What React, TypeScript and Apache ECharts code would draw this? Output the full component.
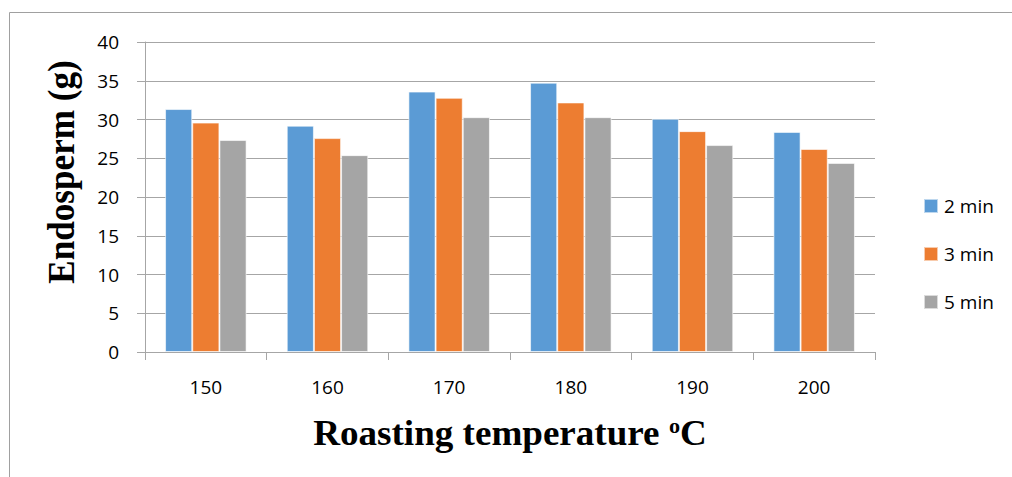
import React, { useEffect, useRef } from "react";
import * as echarts from "echarts";

const categories = ["150", "160", "170", "180", "190", "200"];
const seriesNames = ["2 min", "3 min", "5 min"];
const min2 = [31.35, 29.2, 33.6, 34.75, 30.1, 28.4];
const min3 = [29.6, 27.6, 32.8, 32.2, 28.5, 26.2];
const min5 = [27.35, 25.4, 30.3, 30.3, 26.7, 24.4];
const colors = ["#5B9BD5", "#ED7D31", "#A5A5A5"];
const yTicks = { min: 0, max: 40, interval: 5 };

const tickFont = "Open Sans";

export default function App() {
  const ref = useRef<HTMLDivElement>(null);

  useEffect(() => {
    document.body.style.margin = "0";
    const chart = echarts.init(ref.current!, null, { renderer: "svg" });
    const values = [min2, min3, min5];
    chart.setOption({
      animation: false,
      backgroundColor: "#ffffff",
      grid: { left: 145, right: 137, top: 42, bottom: 125, containLabel: false },
      legend: {
        orient: "vertical",
        left: 918,
        top: 191,
        itemWidth: 14,
        itemHeight: 14,
        itemGap: 28,
        icon: "rect",
        textStyle: { fontFamily: tickFont, fontSize: 19, lineHeight: 20, color: "#000", padding: [0, 0, 0, 1] },
        data: seriesNames,
      },
      xAxis: {
        type: "category",
        data: categories,
        axisLine: { lineStyle: { color: "#a6a6a6", width: 1 } },
        axisTick: { show: true, length: 8, lineStyle: { color: "#a6a6a6" } },
        axisLabel: { fontFamily: tickFont, fontSize: 19, color: "#000", margin: 25 },
      },
      yAxis: {
        type: "value",
        min: yTicks.min,
        max: yTicks.max,
        interval: yTicks.interval,
        axisLine: { show: true, lineStyle: { color: "#a6a6a6", width: 1 } },
        axisTick: { show: true, length: 8, lineStyle: { color: "#a6a6a6" } },
        axisLabel: { fontFamily: tickFont, fontSize: 19, color: "#000", margin: 26 },
        splitLine: { lineStyle: { color: "#a6a6a6", width: 1 } },
      },
      series: seriesNames.map((name, i) => ({
        name,
        type: "bar",
        data: values[i],
        barGap: "0%",
        barCategoryGap: "33%",
        itemStyle: { color: colors[i], borderColor: "rgba(255,255,255,0.6)", borderWidth: 1 },
      })),
      graphic: [
        {
          type: "rect",
          shape: { x: 9.5, y: 12.5, width: 1200, height: 600 },
          style: { fill: "none", stroke: "#a0a0a0", lineWidth: 1 },
          silent: true,
        },
        {
          type: "text",
          x: 510,
          y: 433,
          scaleX: 1.06,
          style: {
            text: "Roasting temperature {sup|o}C",
            rich: {
              sup: {
                fontFamily: "Liberation Serif",
                fontWeight: "bold",
                fontSize: 21,
                verticalAlign: "top",
                padding: [0, 0, 13, 0],
              },
            },
            fontFamily: "Liberation Serif",
            fontWeight: "bold",
            fontSize: 35,
            fill: "#000",
            align: "center",
            verticalAlign: "middle",
          },
        },
        {
          type: "text",
          x: 62,
          y: 172,
          rotation: Math.PI / 2,
          scaleX: 0.95,
          style: {
            text: "Endosperm (g)",
            fontFamily: "Liberation Serif",
            fontWeight: "bold",
            fontSize: 37,
            fill: "#000",
            align: "center",
            verticalAlign: "middle",
          },
        },
      ],
    });
    return () => chart.dispose();
  }, []);

  return <div ref={ref} style={{ width: 1012, height: 477 }} />;
}
